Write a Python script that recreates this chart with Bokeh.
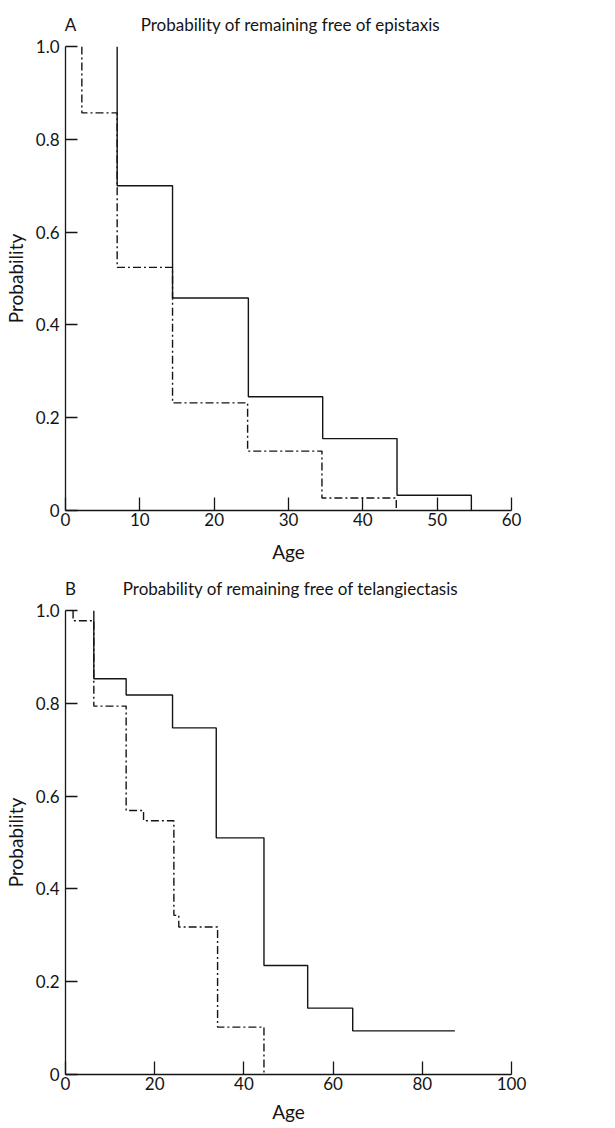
from bokeh.plotting import figure
from bokeh.layouts import column
from bokeh.models import Range1d, FixedTicker, PrintfTickFormatter, LinearAxis
from bokeh.embed import file_html
from bokeh.resources import INLINE

FONT = "Lato"
INK = "#141414"

# Panel A: probability of remaining free of epistaxis
a_solid_age = [6.95, 14.4, 24.6, 34.6, 44.6, 54.6]
a_solid_prob = [0.700, 0.458, 0.245, 0.155, 0.033, 0.0]
a_dash_age = [2.2, 6.95, 14.4, 24.5, 34.5, 44.5]
a_dash_prob = [0.857, 0.524, 0.232, 0.128, 0.027, 0.0]

# Panel B: probability of remaining free of telangiectasis
b_solid_age = [6.35, 13.6, 24.0, 33.8, 44.5, 54.3, 64.4, 87.3]
b_solid_prob = [0.853, 0.818, 0.747, 0.510, 0.235, 0.143, 0.094, 0.094]
b_dash_age = [1.7, 6.35, 13.6, 17.5, 24.3, 25.4, 34.1, 44.5]
b_dash_prob = [0.978, 0.794, 0.569, 0.547, 0.343, 0.318, 0.102, 0.0]

y_ticks = [0, 0.2, 0.4, 0.6, 0.8, 1.0]
a_x_ticks = [0, 10, 20, 30, 40, 50, 60]
b_x_ticks = [0, 20, 40, 60, 80, 100]

a_letter, a_title = "A", "Probability of remaining free of epistaxis"
b_letter, b_title = "B", "Probability of remaining free of telangiectasis"


def make_panel(letter, title, xmax, xticks, curves, top, bottom, lab_gap):
    p = figure(
        output_backend="svg", toolbar_location=None,
        frame_width=446, frame_height=464,
        min_border_left=59, min_border_right=94,
        min_border_top=top, min_border_bottom=bottom,
        x_range=Range1d(0, xmax), y_range=Range1d(0, 1.0),
    )
    p.outline_line_color = None
    p.grid.visible = False
    p.background_fill_color = "white"
    p.border_fill_color = "white"

    for ax in (p.xaxis[0], p.yaxis[0]):
        ax.axis_line_color = INK
        ax.axis_line_width = 1.3
        ax.major_tick_line_color = INK
        ax.major_tick_line_width = 1.3
        ax.major_tick_out = 0
        ax.minor_tick_line_color = None
        ax.major_label_text_font = FONT
        ax.major_label_text_font_size = "17px"
        ax.major_label_text_color = INK
        ax.axis_label_text_font = FONT
        ax.axis_label_text_font_size = "19px"
        ax.axis_label_text_font_style = "normal"
        ax.axis_label_text_color = INK

    p.xaxis.ticker = FixedTicker(ticks=xticks)
    p.xaxis.major_tick_in = 13
    p.xaxis.major_label_standoff = 2
    p.xaxis.axis_label = "Age"
    p.xaxis.axis_label_standoff = lab_gap

    p.yaxis.ticker = FixedTicker(ticks=y_ticks)
    p.yaxis.formatter = PrintfTickFormatter(format="%.1f")
    p.yaxis.major_label_overrides = {0: "0"}
    p.yaxis.major_tick_in = 12
    p.yaxis.major_label_standoff = 6
    p.yaxis.major_label_orientation = "horizontal"
    p.yaxis.axis_label = "Probability"
    p.yaxis.axis_label_standoff = 6

    # panel letter and heading, set on a bare axis above the frame
    letter_x = round(xmax * 0.011, 2)
    title_x = round(xmax * 0.505, 2)
    head = LinearAxis(
        ticker=FixedTicker(ticks=[letter_x, title_x]),
        major_label_overrides={letter_x: letter, title_x: title},
        axis_line_color=None, major_tick_line_color=None,
        minor_tick_line_color=None, major_tick_in=0, major_tick_out=0,
        major_label_standoff=12,
        major_label_text_font=FONT, major_label_text_font_size="17px",
        major_label_text_color=INK,
    )
    p.add_layout(head, "above")

    for ages, probs, dash in curves:
        xs = [ages[0]] + list(ages)
        ys = [1.0] + list(probs)
        p.step(xs, ys, mode="after", line_color=INK, line_width=1.4,
               line_dash=dash)
    return p


pa = make_panel(a_letter, a_title, 60, a_x_ticks,
                [(a_solid_age, a_solid_prob, "solid"),
                 (a_dash_age, a_dash_prob, "8 3 2 3")],
                top=46, bottom=64, lab_gap=11)
pb = make_panel(b_letter, b_title, 100, b_x_ticks,
                [(b_solid_age, b_solid_prob, "solid"),
                 (b_dash_age, b_dash_prob, "8 3 2 3")],
                top=36, bottom=50, lab_gap=7)

layout = column(pa, pb, spacing=0)
open("out.html", "w").write(file_html(layout, INLINE))
